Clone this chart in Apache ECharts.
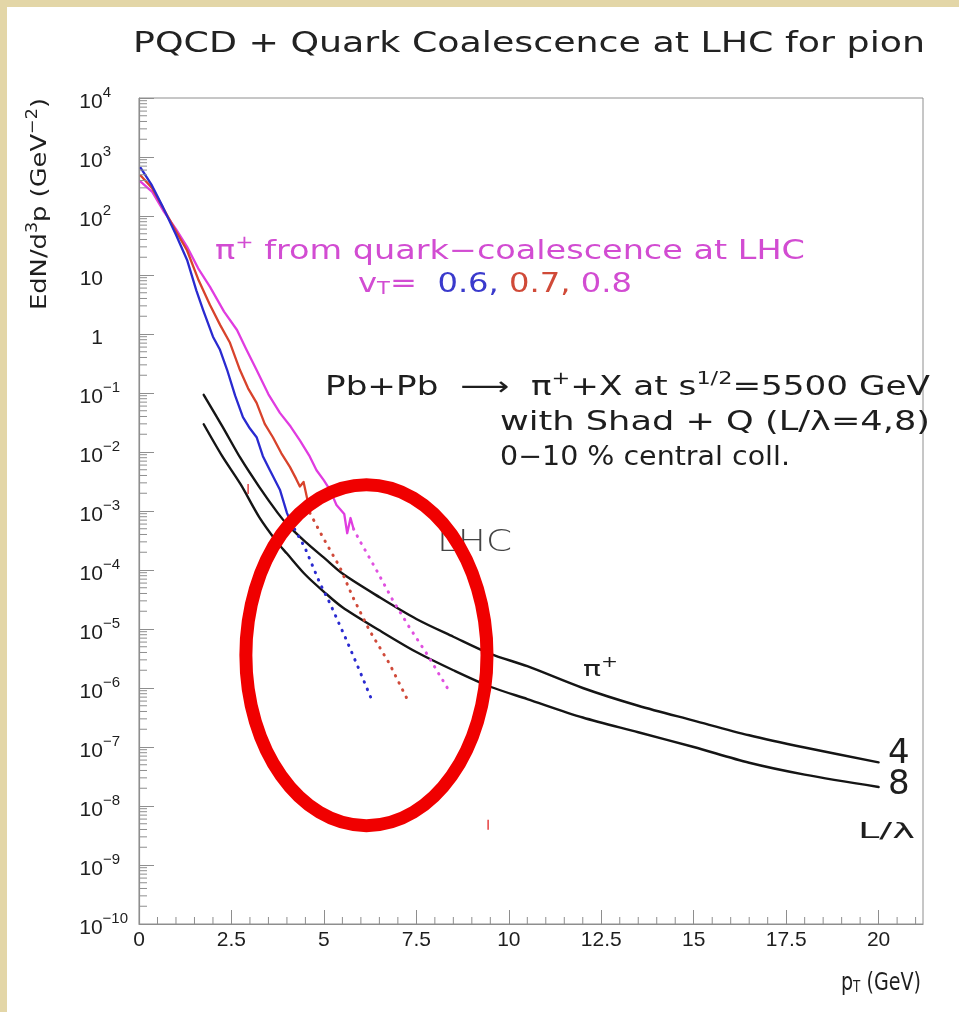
<!DOCTYPE html>
<html>
<head>
<meta charset="utf-8">
<title>PQCD + Quark Coalescence at LHC for pion</title>
<script src="https://cdn.jsdelivr.net/npm/echarts@6/dist/echarts.min.js"></script>
<style>
  html, body { margin: 0; padding: 0; background: #ffffff; }
  #chart { width: 959px; height: 1012px; }
</style>
</head>
<body>
<div id="chart"></div>
<script>
// ---- pQCD pi+ spectra, Pb+Pb at sqrt(s)=5500 GeV, 0-10% central, shadowing + quenching ----
const pqcdPt = [1.75, 2.25, 2.75, 3.25, 3.75, 4, 4.5, 5, 5.5, 6.5, 7.5, 8.5, 9.5, 10.5, 12, 13.5, 15, 16.5, 18, 20];
const pqcdL4 = [0.093, 0.0275, 0.00776, 0.00257, 9.3e-4, 6.0e-4, 3.0e-4, 1.62e-4, 8.7e-5, 3.47e-5, 1.48e-5, 7.4e-6, 3.8e-6, 2.34e-6, 1.0e-6, 5.0e-7, 2.8e-7, 1.58e-7, 9.8e-8, 5.5e-8];
const pqcdL8 = [0.0295, 0.0085, 0.00282, 7.9e-4, 2.88e-4, 1.9e-4, 8.3e-5, 4.27e-5, 2.34e-5, 9.5e-6, 4.07e-6, 2.0e-6, 1.05e-6, 6.5e-7, 3.16e-7, 1.78e-7, 1.0e-7, 5.4e-8, 3.4e-8, 2.1e-8];

// ---- quark-coalescence pi+ (v_T = 0.6, 0.7, 0.8): computed part and extrapolation ----
const coal06Pt = [0.05, 0.35, 0.65, 1.0, 1.3, 1.55, 1.73, 2.0, 2.19, 2.38, 2.6, 2.81, 3.0, 3.18, 3.35, 3.54, 3.81, 4.0, 4.1];
const coal06 = [650, 330, 140, 48, 18, 5.5, 2.6, 0.9, 0.54, 0.25, 0.09, 0.039, 0.025, 0.0178, 0.0085, 0.0049, 0.0023, 9.3e-4, 6.5e-4];
const coal06ExtPt = [4.1, 4.48, 4.89, 5.16, 5.61, 5.96, 6.32];
const coal06Ext = [6.5e-4, 2.45e-4, 6.0e-5, 2.75e-5, 6.5e-6, 2.0e-6, 5.75e-7];

const coal07Pt = [0.05, 0.35, 0.65, 1.0, 1.3, 1.6, 1.92, 2.2, 2.46, 2.73, 2.95, 3.18, 3.4, 3.62, 3.85, 4.08, 4.25, 4.35, 4.45, 4.55, 4.62];
const coal07 = [480, 300, 138, 55, 26, 8.5, 3.1, 1.4, 0.71, 0.245, 0.12, 0.068, 0.03, 0.0178, 0.0095, 0.0056, 0.0035, 0.0026, 0.0031, 0.0016, 9.3e-4];
const coal07ExtPt = [4.62, 4.97, 5.43, 5.78, 6.23, 6.77, 7.31];
const coal07Ext = [9.3e-4, 3.6e-4, 1.12e-4, 3.5e-5, 9.5e-6, 2.6e-6, 5.5e-7];

const coal08Pt = [0.05, 0.35, 0.65, 1.0, 1.3, 1.6, 1.92, 2.3, 2.65, 2.9, 3.18, 3.5, 3.81, 4.1, 4.35, 4.6, 4.8, 5.0, 5.16, 5.34, 5.55, 5.63, 5.72, 5.8];
const coal08 = [380, 260, 125, 60, 30, 13, 6.3, 2.4, 1.17, 0.55, 0.245, 0.095, 0.046, 0.027, 0.0158, 0.0088, 0.0049, 0.0033, 0.0023, 0.00126, 8.9e-4, 4.2e-4, 7.6e-4, 5.0e-4];
const coal08ExtPt = [5.8, 5.96, 6.42, 6.86, 7.31, 7.77, 8.34];
const coal08Ext = [5.0e-4, 3.2e-4, 1.0e-4, 3.1e-5, 1.07e-5, 3.9e-6, 1.0e-6];

// ---- axes ----
const xTickLabels = ['0', '2.5', '5', '7.5', '10', '12.5', '15', '17.5', '20'];
const yDecades = [-10, -9, -8, -7, -6, -5, -4, -3, -2, -1, 0, 1, 2, 3, 4];

// ---- highlighted region (ring drawn around the extrapolated tails) ----
const ringCenter = [6.15, 3.6e-6];
const ringHalfWidthGeV = 3.26;
const ringHalfDecades = 2.89;
const ringStrayMarks = [[2.95, 2.35e-3], [9.44, 4.8e-9]];

const FONT = '"DejaVu Sans", sans-serif';
const TICKFONT = '"Liberation Sans", Arial, sans-serif';
const AXIS_GRAY = '#8e8e8e';
const INK = '#1e1e1e';

const meter = document.createElement('canvas').getContext('2d');

// the vertical axis is linear in log10(EdN/d^3p)
const lg = (v) => Math.log10(v);
const pairs = (xs, ys) => xs.map((x, i) => [x, lg(ys[i])]);

function solidLine(name, xs, ys, color, width, smooth) {
  return {
    type: 'line', name, data: pairs(xs, ys),
    symbol: 'none', showSymbol: false, smooth: smooth || false,
    lineStyle: { color, width, join: 'round', cap: 'round' },
    silent: true, z: 3
  };
}
function dottedLine(name, xs, ys, color) {
  return {
    type: 'line', name, data: pairs(xs, ys),
    symbol: 'none', showSymbol: false,
    lineStyle: { color, width: 3, type: [0.5, 7.5], cap: 'round' },
    silent: true, z: 3
  };
}

// minor ticks: 2..9 per decade on y, every 0.5 GeV on x
const minorTicks = [];
for (let k = -10; k < 4; k++) {
  for (let m = 2; m <= 9; m++) minorTicks.push([0, k + Math.log10(m), 0]);
}
for (let v = 0.5; v < 21.2; v += 0.5) {
  if (Math.abs(v / 2.5 - Math.round(v / 2.5)) > 1e-6) minorTicks.push([v, -10, 1]);
}

// y tick labels 10^k: exponent box padded to a common width
const EXP_BOX = 28;
const expText = (k) => (k < 0 ? '\u2212' + (-k) : String(k));
const expKey = (k) => 'e' + (k < 0 ? 'm' + (-k) : k);
const yRich = {
  b: { fontSize: 21, fontFamily: TICKFONT, color: INK, padding: [8, 0, 0, 0] },
  p: { fontSize: 15, width: EXP_BOX }
};
meter.font = '15px ' + TICKFONT;
yDecades.forEach((k) => {
  const w = meter.measureText(expText(k)).width;
  yRich[expKey(k)] = {
    fontSize: 15, fontFamily: TICKFONT, color: INK,
    padding: [0, Math.max(0, Math.round(EXP_BOX - w)), 10, 0]
  };
});

const chart = echarts.init(document.getElementById('chart'), null, { renderer: 'canvas' });

chart.setOption({
  animation: false,
  backgroundColor: '#ffffff',
  grid: {
    left: 139, right: 36, top: 98, bottom: 88,
    show: true, borderColor: AXIS_GRAY, borderWidth: 1, backgroundColor: '#ffffff'
  },
  xAxis: {
    type: 'value', min: 0, max: 21.2, interval: 2.5,
    axisLine: { show: true, onZero: false, lineStyle: { color: AXIS_GRAY, width: 1.2 } },
    axisTick: { show: true, inside: true, length: 14, lineStyle: { color: AXIS_GRAY, width: 1 } },
    splitLine: { show: false },
    axisLabel: {
      margin: 6, fontSize: 21, fontFamily: TICKFONT, color: INK,
      showMaxLabel: false,
      formatter: (v) => {
        const i = Math.round(v / 2.5);
        return (Math.abs(v - i * 2.5) < 1e-6 && i < xTickLabels.length) ? xTickLabels[i] : '';
      }
    }
  },
  yAxis: {
    type: 'value', min: -10, max: 4, interval: 1,
    axisLine: { show: true, onZero: false, lineStyle: { color: AXIS_GRAY, width: 1.2 } },
    axisTick: { show: true, inside: true, length: 15, lineStyle: { color: AXIS_GRAY, width: 1 } },
    splitLine: { show: false },
    axisLabel: {
      margin: 8, showMinLabel: true, showMaxLabel: true,
      formatter: (v) => {
        const k = Math.round(v);
        if (yDecades.indexOf(k) < 0) return '';
        if (k === 0) return '{b|1}{p| }';
        if (k === 1) return '{b|10}{p| }';
        return '{b|10}{' + expKey(k) + '|' + expText(k) + '}';
      },
      rich: yRich
    }
  },
  series: [
    solidLine('L/\u03bb=4', pqcdPt, pqcdL4, '#151515', 2.4, 0.3),
    solidLine('L/\u03bb=8', pqcdPt, pqcdL8, '#151515', 2.4, 0.3),
    solidLine('v_T=0.8', coal08Pt, coal08, '#e03ce0', 2.3),
    dottedLine('v_T=0.8 ext', coal08ExtPt, coal08Ext, '#e050e0'),
    solidLine('v_T=0.7', coal07Pt, coal07, '#d8432c', 2.3),
    dottedLine('v_T=0.7 ext', coal07ExtPt, coal07Ext, '#d04a3a'),
    solidLine('v_T=0.6', coal06Pt, coal06, '#2a2ad0', 2.3),
    dottedLine('v_T=0.6 ext', coal06ExtPt, coal06Ext, '#2a2ad0'),
    {
      type: 'custom', name: 'minor ticks', data: minorTicks, silent: true, z: 4,
      encode: { x: 0, y: 1 },
      renderItem: (params, api) => {
        const p = api.coord([api.value(0), api.value(1)]);
        const vertical = api.value(2) === 1;
        return {
          type: 'line',
          shape: vertical
            ? { x1: p[0], y1: p[1], x2: p[0], y2: p[1] - 7 }
            : { x1: p[0], y1: p[1], x2: p[0] + 8, y2: p[1] },
          style: { stroke: AXIS_GRAY, lineWidth: 1 }
        };
      }
    }
  ]
});

// ---- text annotations ----
const STY = {
  title:   { size: 28, color: '#222222' },
  mag:     { size: 26, color: '#d24cd2' },
  magSup:  { size: 17, color: '#d24cd2', shift: 'sup' },
  magSub:  { size: 17, color: '#d24cd2', shift: 'sub' },
  blue:    { size: 26, color: '#3a3acc' },
  red:     { size: 26, color: '#d04a38' },
  ink:     { size: 26, color: INK },
  inkSup:  { size: 17, color: INK, shift: 'sup' },
  lhc:     { size: 30, color: '#444444', weight: 300 },
  small:   { size: 22, color: INK },
  smallSup:{ size: 15, color: INK, shift: 'sup' },
  big:     { size: 34, color: INK },
  axis:    { size: 22, color: INK },
  axisSup: { size: 15, color: INK, shift: 'sup' },
  xname:   { size: 24, color: INK },
  xnameSub:{ size: 15, color: INK, shift: 'sub' }
};

function annotation(segs, at) {
  const rich = {};
  let natural = 0;
  let text = '';
  segs.forEach(([key, str]) => {
    const s = STY[key];
    meter.font = (s.weight || 'normal') + ' ' + s.size + 'px ' + FONT;
    natural += meter.measureText(str).width;
    if (!rich[key]) {
      rich[key] = {
        fontSize: s.size, fontFamily: FONT, fontWeight: s.weight || 'normal', fill: s.color,
        padding: s.shift === 'sup' ? [0, 0, Math.round(s.size * 0.95), 0]
               : s.shift === 'sub' ? [Math.round(s.size * 0.6), 0, 0, 0] : [0, 0, 0, 0]
      };
    }
    text += '{' + key + '|' + str + '}';
  });
  const sx = at.width ? at.width / natural : 1;
  return {
    type: 'text', x: at.x, y: at.y, scaleX: sx, scaleY: 1,
    rotation: at.rotation || 0, silent: true, z: 20,
    style: { text, rich, align: at.align || 'left', verticalAlign: 'middle' }
  };
}

function buildGraphics() {
  const g = [];
  // page frame strips
  g.push({ type: 'rect', shape: { x: 0, y: 0, width: 7, height: 1012 }, style: { fill: '#e3d6a7' }, silent: true, z: 1 });
  g.push({ type: 'rect', shape: { x: 0, y: 0, width: 959, height: 7 }, style: { fill: '#e3d6a7' }, silent: true, z: 1 });

  g.push(annotation([['title', 'PQCD + Quark Coalescence at LHC for pion']], { x: 133, y: 45, width: 792 }));
  g.push(annotation([['mag', '\u03c0'], ['magSup', '+'], ['mag', ' from quark\u2212coalescence at LHC']], { x: 215, y: 252, width: 590 }));
  g.push(annotation([['mag', 'v'], ['magSub', 'T'], ['mag', '=  '], ['blue', '0.6, '], ['red', '0.7, '], ['mag', '0.8']], { x: 358, y: 285, width: 274 }));
  g.push(annotation([['ink', 'Pb+Pb  \u27f6  \u03c0'], ['inkSup', '+'], ['ink', '+X at s'], ['inkSup', '1/2'], ['ink', '=5500 GeV']], { x: 325, y: 388, width: 605 }));
  g.push(annotation([['ink', 'with Shad + Q (L/\u03bb=4,8)']], { x: 500, y: 423, width: 430 }));
  g.push(annotation([['ink', '0\u221210 % central coll.']], { x: 500, y: 458, width: 290 }));
  g.push(annotation([['lhc', 'LHC']], { x: 437, y: 543, width: 75 }));
  g.push(annotation([['small', '\u03c0'], ['smallSup', '+']], { x: 583, y: 670, width: 35 }));
  g.push(annotation([['big', '4']], { x: 888, y: 754 }));
  g.push(annotation([['big', '8']], { x: 888, y: 785 }));
  g.push(annotation([['small', 'L/\u03bb']], { x: 858, y: 832, width: 57 }));
  g.push(annotation([['axis', 'EdN/d'], ['axisSup', '3'], ['axis', 'p (GeV'], ['axisSup', '\u22122'], ['axis', ')']],
    { x: 40, y: 204, width: 212, align: 'center', rotation: Math.PI / 2 }));
  g.push(annotation([['xname', 'p'], ['xnameSub', 'T'], ['xname', ' (GeV)']], { x: 921, y: 984, width: 80, align: 'right' }));

  // ring around the extrapolated tails
  const toPx = (p) => chart.convertToPixel({ gridIndex: 0 }, [p[0], lg(p[1])]);
  const c = toPx(ringCenter);
  const ex = toPx([ringCenter[0] + ringHalfWidthGeV, ringCenter[1]]);
  const ey = toPx([ringCenter[0], ringCenter[1] * Math.pow(10, ringHalfDecades)]);
  g.push({
    type: 'ellipse', silent: true, z: 30,
    shape: { cx: c[0], cy: c[1], rx: ex[0] - c[0], ry: c[1] - ey[1] },
    style: { fill: 'none', stroke: '#f00000', lineWidth: 13 }
  });
  ringStrayMarks.forEach((m) => {
    const p = toPx(m);
    g.push({
      type: 'line', silent: true, z: 30,
      shape: { x1: p[0], y1: p[1] - 5, x2: p[0], y2: p[1] + 5 },
      style: { stroke: '#e01010', lineWidth: 1.2 }
    });
  });
  return g;
}

chart.setOption({ graphic: buildGraphics() });
</script>
</body>
</html>
